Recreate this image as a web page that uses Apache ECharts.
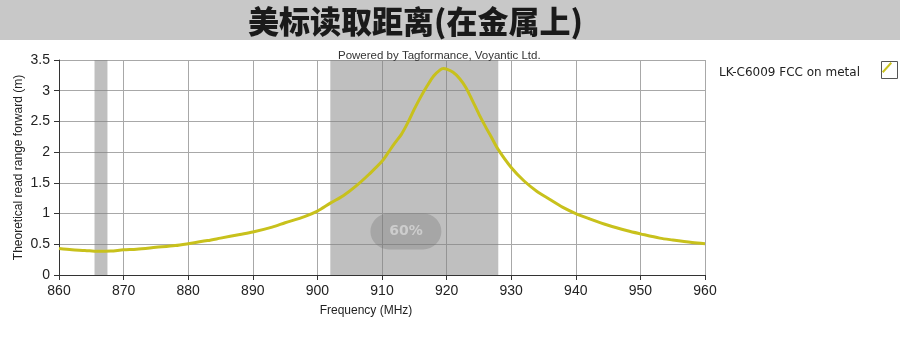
<!DOCTYPE html>
<html>
<head>
<meta charset="utf-8">
<script src="https://cdn.jsdelivr.net/npm/echarts@6/dist/echarts.min.js"></script>
<style>
  html, body { margin: 0; padding: 0; background: #fff; }
  #chart { width: 900px; height: 355px; }
</style>
</head>
<body>
<div id="chart"></div>
<script>
// frequency (MHz) and read range (m)
const freqs = [860, 862, 864, 866, 868, 870, 872, 875, 878, 880, 883, 885, 888, 890, 893, 895, 898, 900,
  902, 904, 906, 908, 910, 911, 912, 913, 914, 915, 916, 917, 918, 919, 919.5, 920, 921, 922, 923, 924,
  925, 926, 927, 928, 930, 932, 934, 936, 938, 940, 942, 945, 948, 950, 953, 955, 958, 960]
const range = [0.43, 0.41, 0.40, 0.385, 0.39, 0.41, 0.42, 0.45, 0.48, 0.51, 0.56, 0.60, 0.66, 0.70, 0.78, 0.85, 0.95, 1.04,
  1.17, 1.29, 1.45, 1.64, 1.85, 2.0, 2.15, 2.29, 2.48, 2.70, 2.90, 3.08, 3.24, 3.34, 3.36, 3.35, 3.30, 3.20, 3.05, 2.84,
  2.62, 2.42, 2.23, 2.04, 1.75, 1.53, 1.36, 1.23, 1.10, 1.00, 0.92, 0.81, 0.72, 0.67, 0.60, 0.57, 0.53, 0.51]
// shaded frequency bands
const bands = [[865.5, 867.5], [902, 928]]
const badge = { freq: 913.7, value: 0.71, text: '60%' }

const seriesName = 'LK-C6009 FCC on metal'
const lineColor = '#c8c11c'

let myChart = echarts.init(document.getElementById('chart'))

let option = {
  animation: false,
  textStyle: { fontFamily: 'Liberation Sans' },
  graphic: [
    { type: 'rect', left: 0, top: 0, z: -1, shape: { width: 900, height: 40 }, style: { fill: '#c8c8c8' } },
    { type: 'rect', left: 879, top: 59, shape: { width: 16, height: 17 }, style: { fill: 'none', stroke: '#555', lineWidth: 1 } }
  ],
  title: [
    {
      text: '美标读取距离(在金属上)',
      left: 248,
      top: 6,
      padding: 0,
      textStyle: { fontFamily: 'Noto Sans CJK SC', fontWeight: 900, fontSize: 31, color: '#1a1a1a' }
    },
    {
      text: 'Powered by Tagformance, Voyantic Ltd.',
      left: 338,
      top: 50,
      padding: 0,
      textStyle: { fontFamily: 'Liberation Sans', fontWeight: 'normal', fontSize: 11.5, color: '#333' }
    }
  ],
  legend: {
    right: 8,
    top: 62,
    padding: 0,
    align: 'right',
    itemWidth: 10,
    itemHeight: 11,
    icon: 'path://M0,10L9,0L10.5,1.5L1.5,11.5Z',
    formatter: '{t|{name}}',
    textStyle: {
      rich: {
        t: { fontFamily: 'DejaVu Sans', fontSize: 12, color: '#222', padding: [10, 17, 0, 0] }
      }
    },
    data: [seriesName]
  },
  grid: { left: 59, right: 195, top: 60, bottom: 80 },
  xAxis: {
    type: 'value',
    min: 860,
    max: 960,
    interval: 10,
    name: 'Frequency (MHz)',
    nameLocation: 'middle',
    nameGap: 30,
    nameMoveOverlap: false,
    nameTextStyle: { fontSize: 12, color: '#222', padding: [0, 32, 0, 0] },
    axisLine: { show: true, lineStyle: { color: '#333', width: 1 } },
    axisTick: { show: true, length: 5, lineStyle: { color: '#333' } },
    axisLabel: { fontSize: 14, color: '#222', margin: 9 },
    splitLine: { show: true, lineStyle: { color: '#a8a8a8', width: 1 } }
  },
  yAxis: {
    type: 'value',
    min: 0,
    max: 3.5,
    interval: 0.5,
    name: 'Theoretical read range forward (m)',
    nameLocation: 'middle',
    nameRotate: 90,
    nameGap: 34,
    nameMoveOverlap: false,
    nameTextStyle: { fontSize: 12, color: '#222' },
    axisLine: { show: true, lineStyle: { color: '#333', width: 1 } },
    axisTick: { show: true, length: 5, lineStyle: { color: '#333' } },
    axisLabel: { fontSize: 14, color: '#222', margin: 9 },
    splitLine: { show: true, lineStyle: { color: '#a8a8a8', width: 1 } }
  },
  series: [
    {
      name: seriesName,
      type: 'line',
      smooth: 0.3,
      showSymbol: false,
      color: lineColor,
      lineStyle: { color: lineColor, width: 3 },
      data: freqs.map((f, i) => [f, range[i]]),
      markArea: {
        silent: true,
        itemStyle: { color: 'rgba(128,128,128,0.5)' },
        data: bands.map(b => [{ xAxis: b[0] }, { xAxis: b[1] }])
      },
      markPoint: {
        silent: true,
        symbol: 'path://M18,0H52A18,18 0 0 1 52,36H18A18,18 0 0 1 18,0Z',
        symbolSize: [71, 36],
        symbolKeepAspect: false,
        itemStyle: { color: 'rgba(110,110,110,0.3)' },
        label: {
          show: true,
          position: 'inside',
          formatter: badge.text,
          fontFamily: 'DejaVu Sans',
          fontWeight: 'bold',
          fontSize: 14,
          color: '#cdcdcd'
        },
        data: [{ coord: [badge.freq, badge.value] }]
      }
    }
  ]
}

myChart.setOption(option)
</script>
</body>
</html>
